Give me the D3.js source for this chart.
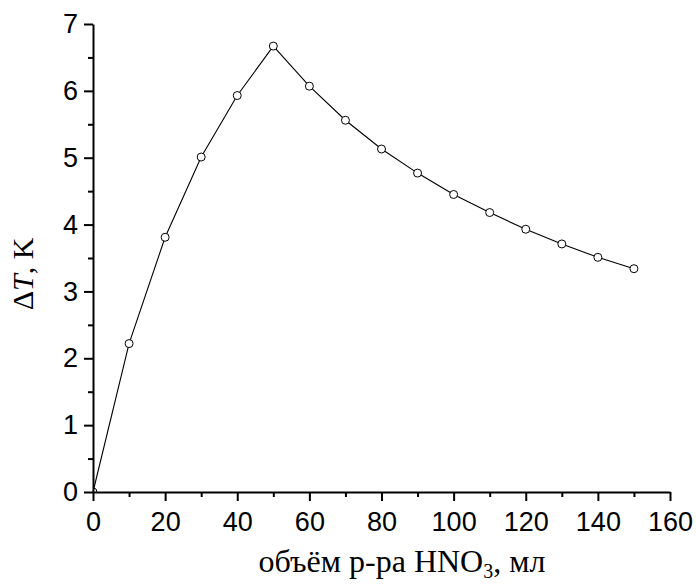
<!DOCTYPE html>
<html>
<head>
<meta charset="utf-8">
<script src="https://cdn.jsdelivr.net/npm/d3@7"></script>
<style>
	body { margin: 0; background: #fff; }
	svg { display: block; }
	.tick text { font-family: "Liberation Sans", Arial, sans-serif; font-size: 27px; fill: #000; }
	.title { font-family: "Liberation Serif", "Times New Roman", serif; fill: #000; }
</style>
</head>
<body>
<div id="chart"></div>
<script>
// volume of HNO3 solution, ml
var volumes = [0, 10, 20, 30, 40, 50, 60, 70, 80, 90, 100, 110, 120, 130, 140, 150];
// temperature rise, K
var deltaT = [0, 2.22, 3.81, 5.01, 5.93, 6.67, 6.07, 5.56, 5.13, 4.77, 4.45, 4.18, 3.93, 3.71, 3.51, 3.34];

var xTicks = [0, 20, 40, 60, 80, 100, 120, 140, 160];
var xMinor = [10, 30, 50, 70, 90, 110, 130, 150];
var yTicks = [0, 1, 2, 3, 4, 5, 6, 7];
var yMinor = [0.5, 1.5, 2.5, 3.5, 4.5, 5.5, 6.5];

var w = 696, h = 585;
var margin = { top: 24, right: 26, bottom: 93, left: 93 };
var iw = w - margin.left - margin.right;
var ih = h - margin.top - margin.bottom;

var svg = d3.select("#chart").append("svg")
	.attr("width", w)
	.attr("height", h);

var g = svg.append("g")
	.attr("transform", "translate(" + margin.left + "," + margin.top + ")");

var x = d3.scaleLinear().domain([0, 160]).range([0, iw]);
var y = d3.scaleLinear().domain([0, 7]).range([ih, 0]);

// clip so the marker at the origin is cut by the axes like in the original
g.append("clipPath").attr("id", "plotclip")
	.append("rect").attr("x", 0).attr("y", -10).attr("width", iw + 10).attr("height", ih + 10);

var data = volumes.map(function(v, i) { return { x: v, y: deltaT[i] }; });

var line = d3.line()
	.x(function(d) { return x(d.x); })
	.y(function(d) { return y(d.y); });

g.append("path")
	.datum(data)
	.attr("fill", "none")
	.attr("stroke", "#000")
	.attr("stroke-width", 1.1)
	.attr("d", line);

g.append("g")
	.attr("clip-path", "url(#plotclip)")
	.selectAll("circle")
	.data(data)
	.enter()
	.append("circle")
	.attr("cx", function(d) { return x(d.x); })
	.attr("cy", function(d) { return y(d.y); })
	.attr("r", 4)
	.attr("fill", "#fff")
	.attr("stroke", "#000")
	.attr("stroke-width", 1);

// minor ticks
g.append("g")
	.attr("transform", "translate(0," + ih + ")")
	.call(d3.axisBottom(x).tickValues(xMinor).tickSize(5).tickSizeOuter(0).tickFormat(""))
	.call(function(a) { a.select(".domain").remove(); });
g.append("g")
	.call(d3.axisLeft(y).tickValues(yMinor).tickSize(5).tickSizeOuter(0).tickFormat(""))
	.call(function(a) { a.select(".domain").remove(); });

// major axes
var xAxis = g.append("g")
	.attr("transform", "translate(0," + ih + ")")
	.call(d3.axisBottom(x).tickValues(xTicks).tickSize(9).tickSizeOuter(0).tickPadding(9).tickFormat(d3.format("d")));
var yAxis = g.append("g")
	.call(d3.axisLeft(y).tickValues(yTicks).tickSize(9).tickSizeOuter(0).tickPadding(6).tickFormat(d3.format("d")));

g.selectAll(".tick line").attr("stroke", "#000").attr("stroke-width", 2);
g.selectAll(".domain").attr("stroke", "#000").attr("stroke-width", 2);
xAxis.selectAll("text").attr("dy", "0.78em");

// axis titles
var xt = svg.append("text")
	.attr("class", "title")
	.attr("x", 402)
	.attr("y", 572)
	.attr("text-anchor", "middle")
	.style("font-size", "32px");
xt.append("tspan").text("объём р-ра HNO");
xt.append("tspan").attr("dy", 6).style("font-size", "20px").text("3");
xt.append("tspan").attr("dy", -6).text(", мл");

var yt = svg.append("text")
	.attr("class", "title")
	.attr("transform", "translate(33,274) rotate(-90)")
	.attr("text-anchor", "middle")
	.style("font-size", "30px");
yt.append("tspan").text("Δ");
yt.append("tspan").style("font-style", "italic").text("T");
yt.append("tspan").text(", K");
</script>
</body>
</html>
